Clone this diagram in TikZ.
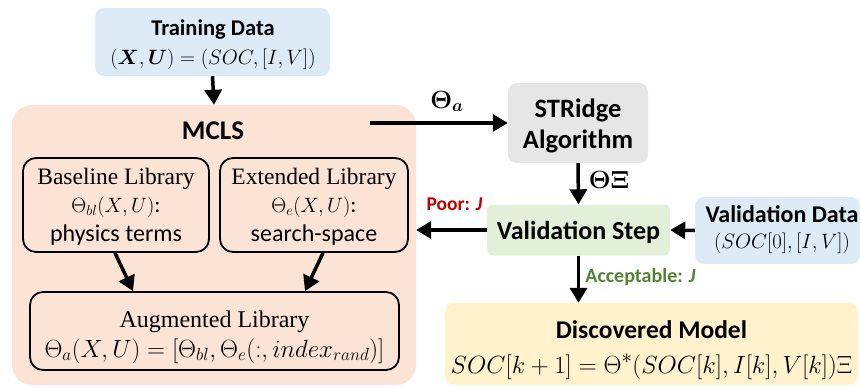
\documentclass[tikz,border=0pt]{standalone}
\usepackage{amsmath}
\usepackage{fontspec}
\setmainfont{Carlito}
\newfontfamily\serifc{Liberation Serif}
\usetikzlibrary{arrows.meta}
\definecolor{dataBlue}{HTML}{DDEBF7}
\definecolor{mclsPeach}{HTML}{FBE4D5}
\definecolor{algGray}{HTML}{E7E6E6}
\definecolor{valGreen}{HTML}{E2F0D9}
\definecolor{modelYellow}{HTML}{FFF2CC}
\definecolor{poorRed}{HTML}{C00000}
\definecolor{okGreen}{HTML}{548235}
\newcommand{\fs}[1]{\fontsize{#1}{#1}\selectfont}
\tikzset{
  x=1pt, y=-1pt,
  filled/.style={rounded corners=9pt, inner sep=0pt},
  libbox/.style={draw=black, line width=1.8pt, rounded corners=13pt, inner sep=0pt},
  flow/.style={line width=3.5pt, -{Triangle[length=15pt,width=17pt]}},
  lbl/.style={inner sep=0pt, anchor=base},
  head/.style={lbl, font=\fs{22.5}\bfseries},
  serhead/.style={lbl, font=\fs{23.5}\serifc},
  plain/.style={lbl, font=\fs{24}},
  eq/.style={lbl, font=\fs{22}},
}
\begin{document}
\begin{tikzpicture}
\useasboundingbox (0,0) rectangle (860,388);

% boxes
\node[filled, fill=dataBlue, minimum width=235pt, minimum height=68pt] (train) at (212.5,42) {};
\node[filled, fill=mclsPeach, rounded corners=20pt, minimum width=404pt, minimum height=280pt] (mcls) at (214,245) {};
\node[libbox, minimum width=186pt, minimum height=94pt] (base) at (116,205) {};
\node[libbox, minimum width=188pt, minimum height=94pt] (ext) at (314,205) {};
\node[libbox, minimum width=369pt, minimum height=78pt] (aug) at (214.5,331) {};
\node[filled, fill=algGray, minimum width=140pt, minimum height=80pt] (strd) at (578,123) {};
\node[filled, fill=valGreen, rounded corners=6pt, minimum width=183pt, minimum height=51pt] (valstep) at (578.5,230) {};
\node[filled, fill=dataBlue, minimum width=165pt, minimum height=67pt] (valdata) at (777.5,230.5) {};
\node[filled, fill=modelYellow, minimum width=413pt, minimum height=82pt] (disc) at (651.5,344) {};

% box texts (placed on their baselines)
\node[head] (trainT) at (213,35) {Training Data};
\node[eq, font=\fs{22}] (trainE) at (213,64) {$(\boldsymbol{X},\boldsymbol{U}) = (SOC,[I,V])$};

\node[head, font=\fs{27}\bfseries] (mclsT) at (213,139) {MCLS};

\node[serhead] (baseT) at (116,184) {Baseline Library};
\node[eq] (baseE) at (116,212) {$\Theta_{bl}(X,U)$\fs{23}:};
\node[plain] (baseP) at (116,241) {physics terms};

\node[serhead] (extT) at (314,184) {Extended Library};
\node[eq] (extE) at (314,212) {$\Theta_{e}(X,U)$\fs{23}:};
\node[plain] (extP) at (314,241) {search-space};

\node[serhead, font=\fs{24}\serifc] (augT) at (214.5,327) {Augmented Library};
\node[eq, font=\fs{24.5}] (augE) at (214.5,357) {$\Theta_a(X,U) = [\Theta_{bl},\Theta_e(:,index_{rand})]$};

\node[head, font=\fs{26.5}\bfseries] (strdT) at (578,117) {STRidge};
\node[head, font=\fs{26.5}\bfseries] (strdA) at (578,148) {Algorithm};

\node[head, font=\fs{26}\bfseries] (valstepT) at (578.5,239) {Validation Step};

\node[head, font=\fs{24}\bfseries] (valdataT) at (782,222) {Validation Data};
\node[eq, font=\fs{22.5}] (valdataE) at (782,248) {$(SOC[0],[I,V])$};

\node[head, font=\fs{25.5}\bfseries] (discT) at (651.5,338) {Discovered Model};
\node[eq, font=\fs{28}] (discE) at (651.5,373) {$SOC[k+1] = \Theta^{*}(SOC[k],I[k],V[k])\Xi$};

% connectors
\coordinate (mclsout) at (370,123);
\draw[flow] (train.south) -- (mcls.north);
\draw[flow] (mclsout) -- (strd.west);
\node[eq, font=\fs{25.5}] (thetaa) at (447,108) {$\boldsymbol{\Theta_{a}}$};
\draw[flow] ([xshift=-1pt]base.south) -- ([xshift=-81.5pt]aug.north);
\draw[flow] ([xshift=9pt]ext.south) -- ([xshift=90.5pt]aug.north);
\draw[flow] (strd.south) -- (valstep.north);
\node[eq, font=\fs{25}] (thetaxi) at (609,188) {$\boldsymbol{\Theta\Xi}$};
\draw[flow] (valdata.west) -- (valstep.east);
\draw[flow] (valstep.west) -- (mcls.east |- valstep.west);
\node[lbl, text=poorRed, font=\fs{19.5}\bfseries] (poor) at (454.5,210) {Poor: \textit{J}};
\draw[flow] (valstep.south) -- (disc.north -| valstep.south);
\node[lbl, text=okGreen, font=\fs{20}\bfseries] (acc) at (640.5,282) {Acceptable: \textit{J}};
\end{tikzpicture}
\end{document}
